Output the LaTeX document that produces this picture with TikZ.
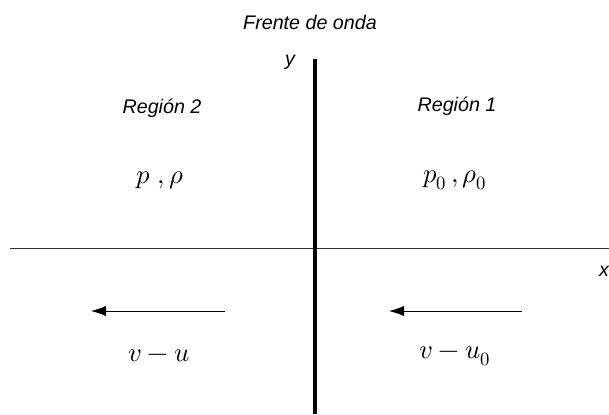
\documentclass[tikz,border=0pt]{standalone}
\usepackage{fontspec}
\setmainfont{Liberation Sans}
\usepackage{unicode-math}
\setmathfont{Latin Modern Math}
\usetikzlibrary{arrows.meta,positioning}

\begin{document}
\begin{tikzpicture}[
  x=0.025cm, y=-0.025cm,
  lbl/.style={font=\fontsize{14}{16}\selectfont\itshape, inner sep=0pt},
  qty/.style={font=\fontsize{19}{22}\selectfont, inner sep=0pt},
  axis/.style={line width=0.5pt, black!80},
  front/.style={line width=2.2pt},
  flow/.style={-{Latex[length=3.8mm,width=2.6mm]}, line width=0.6pt}
]
\useasboundingbox (0,0) rectangle (609,414);

% frente de onda y ejes
\node[lbl] (title) at (310,22) {Frente de onda};
\coordinate (ftop) at (315,59);
\coordinate (fbot) at (315,414);
\coordinate (xl) at (10,248);
\coordinate (xr) at (609,248);
\draw[axis] (xl) -- (xr);
\draw[front] (ftop) -- (fbot);
\node[lbl] (ylab) at (290,62) {y};
\node[lbl] (xlab) at (604,271) {x};

% regiones
\node[lbl] (reg2) at (162,108) {Región 2};
\node[lbl] (reg1) at (457,106) {Región 1};
\node[qty] (st2) at (160,180) {$p\;,\rho$};
\node[qty] (st1) at (455,180) {$p_0\,,\rho_0$};

% velocidades
\coordinate (a2s) at (225,311);
\coordinate (a2e) at (91,311);
\coordinate (a1s) at (522,311);
\coordinate (a1e) at (389,311);
\draw[flow] (a2s) -- (a2e);
\draw[flow] (a1s) -- (a1e);
\node[qty] (v2) at (159,356) {$v-u$};
\node[qty] (v1) at (455,356) {$v-u_0$};
\end{tikzpicture}
\end{document}
